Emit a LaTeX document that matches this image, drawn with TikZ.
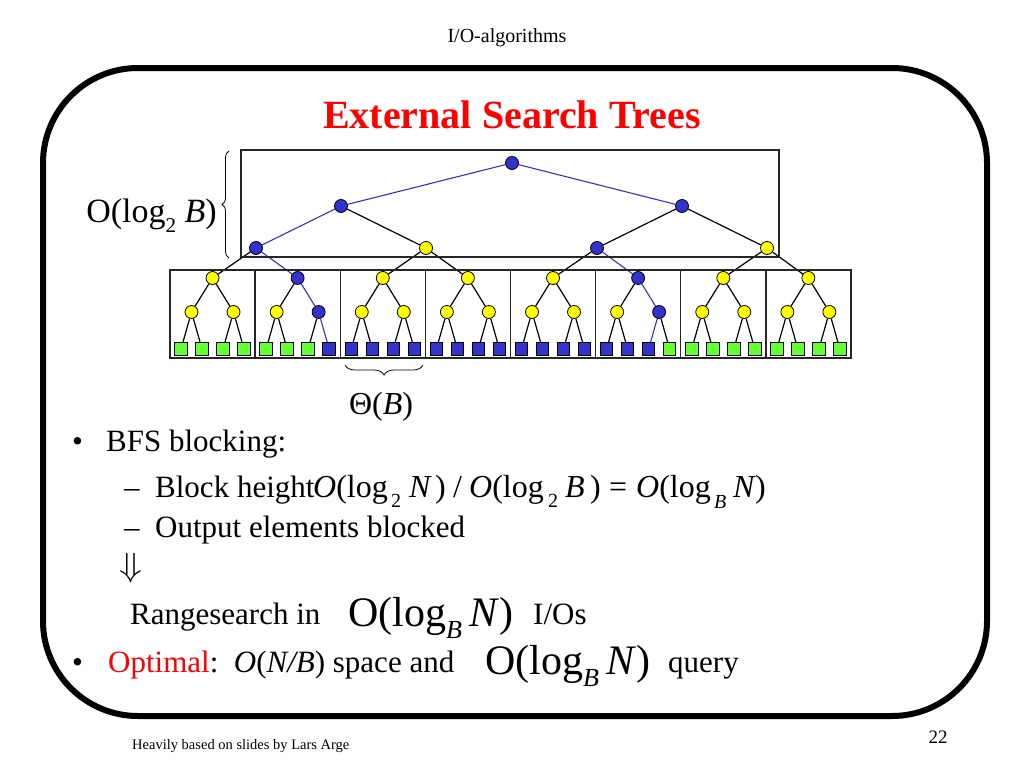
\documentclass[tikz,border=0pt]{standalone}
\usepackage{fontspec}
\setmainfont{Liberation Serif}
\usetikzlibrary{decorations.pathreplacing}
\definecolor{nblue}{RGB}{51,51,204}
\definecolor{nyel}{RGB}{255,255,0}
\definecolor{ngreen}{RGB}{102,255,51}
\definecolor{tred}{RGB}{255,0,0}
\newcommand\lo[1]{\raisebox{-0.3em}{\scalebox{0.62}{#1}}}
\newcommand\fs[1]{\fontsize{#1}{#1}\selectfont}
\pgfdeclarelayer{edgelayer}
\pgfsetlayers{edgelayer,main}
\begin{document}
\begin{tikzpicture}[x=1pt,y=-1pt,
  bn/.style={circle,draw=black,fill=nblue,inner sep=0pt,minimum size=13pt,line width=0.8pt},
  yn/.style={bn,fill=nyel},
  bl/.style={rectangle,draw=black,fill=nblue,inner sep=0pt,minimum size=12.5pt,line width=0.8pt},
  gl/.style={bl,fill=ngreen},
  ed/.style={line width=1.2pt,black},
  bed/.style={line width=1.1pt,nblue},
  boxl/.style={line width=1.3pt,draw=black!85},
  txt/.style={inner sep=0pt,anchor=base west},
  ctxt/.style={inner sep=0pt,anchor=base},
  mt/.style={txt,font=\fs{32}},
  ms/.style={txt,font=\fs{20}},
  brc/.style={decorate,decoration={brace,amplitude=#1},line width=0.8pt},
]
\useasboundingbox (0,0) rectangle (1024,768);
% frame
\draw[line width=6pt,rounded corners=95pt] (43,68) rectangle (987,716);
% header / footer
\node[ctxt] (hdr) at (507,43) {\fs{20}I/O-algorithms};
\node[txt] (foot) at (132,749) {\fs{14.5}Heavily based on slides by Lars Arge};
\node[ctxt] (pnum) at (938,743) {\fs{19}22};
% title
\node[ctxt] (title) at (512,128) {\fs{40}\bfseries\color{tred}External Search Trees};
% boxes
\draw[boxl] (241,150) rectangle (779,257);
\draw[boxl] (170,270) rectangle (851,358);
\foreach \i in {1,...,7} {\draw[boxl] ({170+85.125*\i},270) -- ({170+85.125*\i},358);}
% upper tree
\node[bn] (root) at (512,163) {};
\node[bn] (a1) at (341,206) {};
\node[bn] (a2) at (682,206) {};
\node[bn] (b1) at (256,248) {};
\node[yn] (b2) at (426,248) {};
\node[bn] (b3) at (597,248) {};
\node[yn] (b4) at (767,248) {};
% blocks
\foreach \i in {1,...,8} {
  \pgfmathsetmacro\cx{170+85.125*(\i-1)+42.5}
  \def\tc{yn}
  \ifnum\i=2 \def\tc{bn}\fi
  \ifnum\i=6 \def\tc{bn}\fi
  \node[\tc] (t\i) at (\cx,278) {};
  \node[yn] (l\i) at (\cx-21,312) {};
  \node[\tc] (r\i) at (\cx+21,312) {};
  \foreach \j/\dx in {1/-31.5,2/-10.5,3/10.5,4/31.5} {
    \def\lc{gl}
    \ifnum\i>2 \ifnum\i<6 \def\lc{bl}\fi\fi
    \ifnum\i=2 \ifnum\j=4 \def\lc{bl}\fi\fi
    \ifnum\i=6 \ifnum\j<4 \def\lc{bl}\fi\fi
    \node[\lc] (s\i-\j) at (\cx+\dx,349) {};
  }
}
% edges
\begin{pgfonlayer}{edgelayer}
\draw[bed] (root) -- (a1);
\draw[bed] (root) -- (a2);
\draw[bed] (a1) -- (b1);
\draw[ed] (a1) -- (b2);
\draw[ed] (a2) -- (b3);
\draw[ed] (a2) -- (b4);
\draw[ed] (b1) -- (t1);
\draw[bed] (b1) -- (t2);
\draw[ed] (b2) -- (t3);
\draw[ed] (b2) -- (t4);
\draw[ed] (b3) -- (t5);
\draw[bed] (b3) -- (t6);
\draw[ed] (b4) -- (t7);
\draw[ed] (b4) -- (t8);
\foreach \i in {1,...,8} {
  \def\rs{ed}\def\ea{ed}\def\eb{ed}
  \ifnum\i=2 \def\rs{bed}\def\eb{bed}\fi
  \ifnum\i=6 \def\rs{bed}\def\ea{bed}\fi
  \draw[ed] (t\i) -- (l\i);
  \draw[\rs] (t\i) -- (r\i);
  \draw[ed] (l\i) -- (s\i-1);
  \draw[ed] (l\i) -- (s\i-2);
  \draw[\ea] (r\i) -- (s\i-3);
  \draw[\eb] (r\i) -- (s\i-4);
}
\end{pgfonlayer}
% braces
\coordinate (brA) at (229,258);
\coordinate (brB) at (229,151);
\draw[brc=7pt] (brA) -- (brB);
\node[inner sep=0pt,anchor=base east] (hlab) at (217,222) {\fs{34}O(log\lo{2} \textit{B})};
\coordinate (brC) at (423,365);
\coordinate (brD) at (345,365);
\draw[brc=10pt] (brC) -- (brD);
\node[ctxt] (thl) at (381,414) {\fs{32}Θ(\textit{B})};
% text
\node[txt] (bul1) at (72,451) {\fs{31}•};
\node[txt] (l1) at (106,451) {\fs{31}BFS blocking:};
\node[txt] (d1) at (124,497) {\fs{31}–};
\node[txt] (l2) at (155,497) {\fs{31}Block height};
% math of line 2
\node[mt] (m2a) at (313,497) {\textit{O}(log};
\node[ms] (m2b) at (391,507) {2};
\node[mt] (m2c) at (409,497) {\textit{N}};
\node[mt] (m2d) at (435,497) {)};
\node[mt] (m2e) at (453,497) {/};
\node[mt] (m2f) at (469,497) {\textit{O}(log};
\node[ms] (m2g) at (548,507) {2};
\node[mt] (m2h) at (565,497) {\textit{B}};
\node[mt] (m2i) at (590,497) {)};
\node[mt] (m2j) at (609,497) {=};
\node[mt] (m2k) at (636,497) {\textit{O}(log};
\node[ms] (m2l) at (714,508) {\textit{B}};
\node[mt] (m2m) at (733,497) {\textit{N}};
\node[mt] (m2n) at (755,497) {)};
\node[txt] (d2) at (124,537) {\fs{31}–};
\node[txt] (l3) at (155,537) {\fs{31}Output elements blocked};
\node[inner sep=0pt] (arr) at (131,568) {\scalebox{1.5}[1.35]{\fs{24.88}$\Downarrow$}};
\node[txt] (l4) at (130,624) {\fs{31}Rangesearch in};
\node[txt] (m4) at (348,626) {\fs{42}O(log\lo{\textit{B}}\,\textit{N})};
\node[txt] (l4b) at (533,624) {\fs{31}I/Os};
\node[txt] (bul2) at (72,672) {\fs{31}•};
\node[txt] (l5) at (108,672) {\fs{31}\textcolor{tred}{Optimal}:\ \ \textit{O}(\textit{N/B}) space and};
\node[txt] (m5) at (485,674) {\fs{42}O(log\lo{\textit{B}}\,\textit{N})};
\node[txt] (l5b) at (668,672) {\fs{31}query};
\end{tikzpicture}
\end{document}
